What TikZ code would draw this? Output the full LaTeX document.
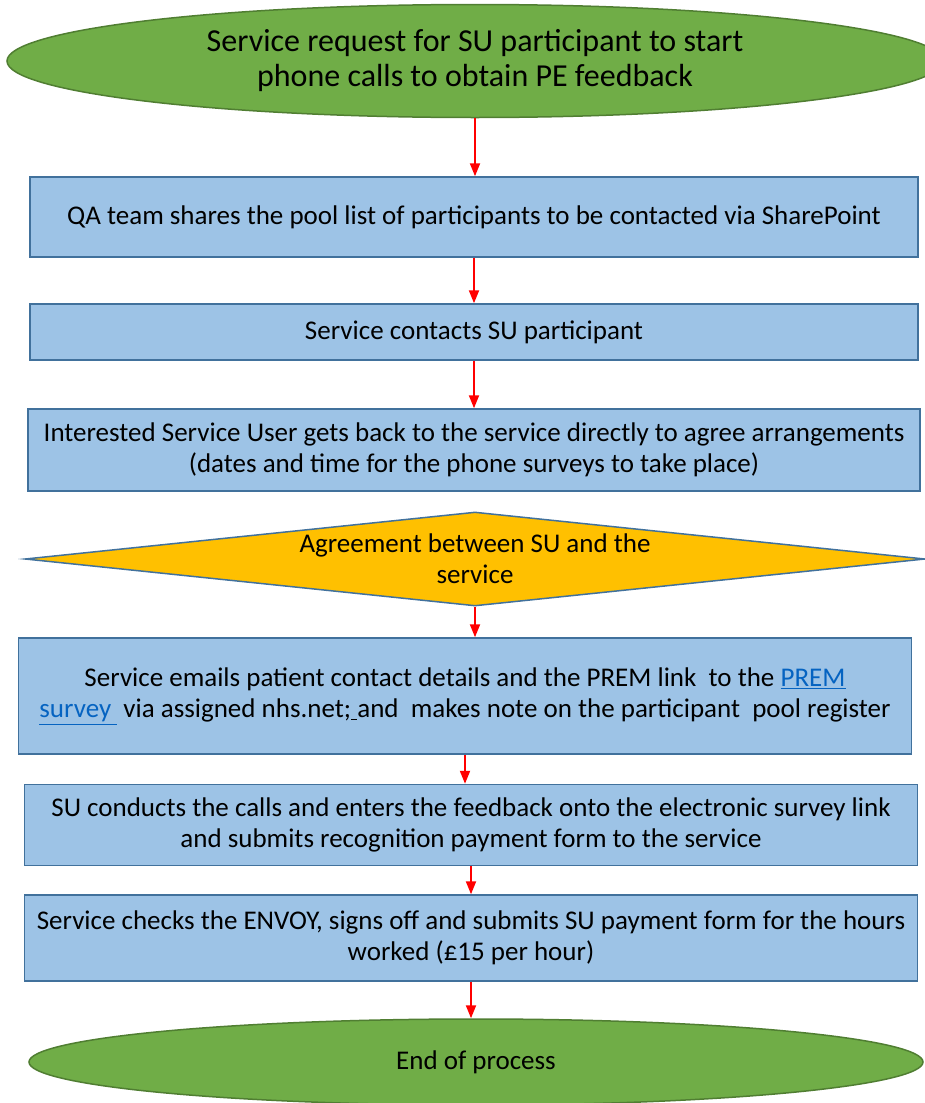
\documentclass[tikz,border=0pt]{standalone}
\usepackage{fontspec}
\setmainfont{Carlito}
\usetikzlibrary{shapes.geometric,arrows.meta}
\definecolor{grn}{HTML}{70AD47}
\definecolor{grnb}{HTML}{507E32}
\definecolor{bfill}{HTML}{9DC3E6}
\definecolor{bline}{HTML}{41719C}
\definecolor{yel}{HTML}{FFC000}
\definecolor{lnk}{HTML}{0563C1}
\begin{document}
\begin{tikzpicture}[x=1pt,y=-1pt,
  stepbox/.style={draw=bline, line width=1.5pt, fill=bfill, align=center, inner sep=0pt,
    font=\fontsize{27}{31.5}\selectfont},
  endnode/.style={ellipse, draw=grnb, line width=1.5pt, fill=grn, align=center, inner sep=0pt},
  decbox/.style={diamond, draw=bline, line width=1.5pt, fill=yel, inner sep=0pt},
  arr/.style={draw=red, line width=2pt, -{Triangle[length=13pt,width=10pt]}}]
\useasboundingbox (0,0) rectangle (925,1103);
\clip (0,0) rectangle (925,1103);

\node[endnode, minimum width=936pt, minimum height=113pt, font=\fontsize{32}{35}\selectfont] (start) at (475,61)
  {Service request for SU participant to start\\phone calls to obtain PE feedback};

\node[stepbox, minimum width=888pt, minimum height=80pt] (b1) at (474,217)
  {QA team shares the pool list of participants to be contacted via SharePoint};

\node[stepbox, minimum width=888pt, minimum height=56pt] (b2) at (474,332)
  {Service contacts SU participant};

\node[stepbox, minimum width=892pt, minimum height=82pt] (b3) at (474,450)
  {Interested Service User gets back to the service directly to agree arrangements\\(dates and time for the phone surveys to take place)};

\node[decbox, minimum width=900pt, minimum height=94pt] (dec) at (475,559) {};
\node[align=center, font=\fontsize{27}{31}\selectfont] (dectxt) at (dec.center)
  {Agreement between SU and the\\service};

\node[stepbox, minimum width=893pt, minimum height=116pt] (b4) at (465,696)
  {Service emails patient contact details and the PREM link\ \ to the \textcolor{lnk}{\underline{PREM}}\\
   \textcolor{lnk}{\underline{survey\ }} via assigned nhs.net;\underline{\ }and\ \ makes note on the participant\ \ pool register};

\node[stepbox, minimum width=893pt, minimum height=81pt] (b5) at (471,825)
  {SU conducts the calls and enters the feedback onto the electronic survey link\\and submits recognition payment form to the service};

\node[stepbox, minimum width=893pt, minimum height=86pt] (b6) at (471,938)
  {Service checks the ENVOY, signs off and submits SU payment form for the hours\\worked (£15 per hour)};

\node[endnode, minimum width=894pt, minimum height=86pt, font=\fontsize{27}{31}\selectfont] (end) at (476,1062)
  {End of process};

\draw[arr] (start.south) -- (start.south |- b1.north);
\draw[arr] (b1.south) -- (b2.north);
\draw[arr] (b2.south) -- (b3.north);
\draw[arr] (dec.south) -- (dec.south |- b4.north);
\draw[arr] (b4.south) -- (b4.south |- b5.north);
\draw[arr] (b5.south) -- (b6.north);
\draw[arr] (b6.south) -- (b6.south |- end.north);
\end{tikzpicture}
\end{document}
